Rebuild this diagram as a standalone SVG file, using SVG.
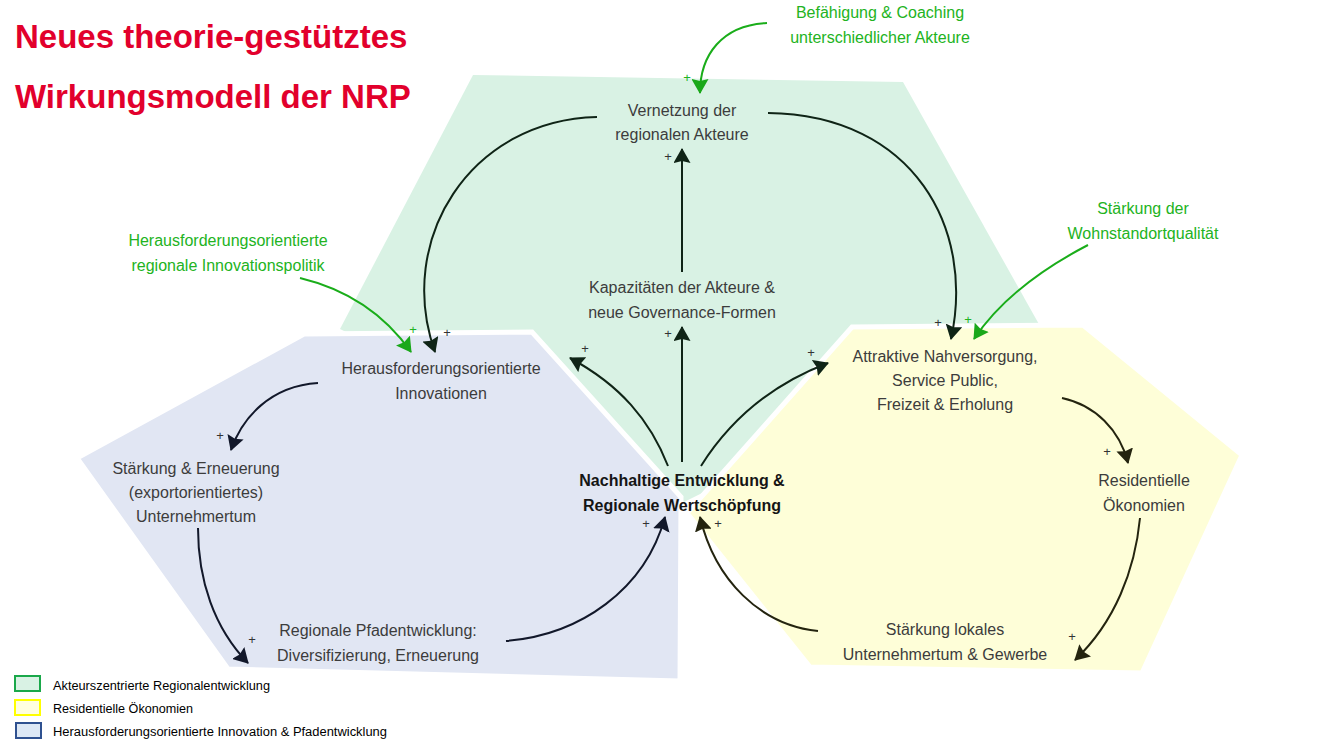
<svg xmlns="http://www.w3.org/2000/svg" width="1320" height="749" viewBox="0 0 1320 749">
<style>
.nt{font-family:"Liberation Sans",Arial,sans-serif;font-size:16px;fill:#3c3c3c;text-anchor:middle}
.ntb{font-family:"Liberation Sans",Arial,sans-serif;font-size:16px;font-weight:bold;fill:#151515;text-anchor:middle}
.gt{font-family:"Liberation Sans",Arial,sans-serif;font-size:16px;fill:#22b322;text-anchor:middle}
.ttl{font-family:"Liberation Sans",Arial,sans-serif;font-size:33px;font-weight:bold;fill:#e2002c}
.lg{font-family:"Liberation Sans",Arial,sans-serif;font-size:12px;fill:#000}
.pl{font-family:"Liberation Sans",Arial,sans-serif;font-size:13px;fill:#333;text-anchor:middle}
.pg{font-family:"Liberation Sans",Arial,sans-serif;font-size:13px;fill:#22b322;text-anchor:middle}
.c{fill:none;stroke-width:2}
.cg{stroke:#0f2416;marker-end:url(#ag)}
.cb{stroke:#12182a;marker-end:url(#ab)}
.cy{stroke:#24240f;marker-end:url(#ay)}
.cgr{stroke:#1aad1a;marker-end:url(#agr)}
</style>
<defs>
<marker id="ag" markerUnits="userSpaceOnUse" markerWidth="15" markerHeight="17" viewBox="0 0 15 17" refX="14" refY="8.5" orient="auto"><path d="M0,0 L15,8.5 L0,17 L2,8.5 z" fill="#0f2416"/></marker>
<marker id="ab" markerUnits="userSpaceOnUse" markerWidth="15" markerHeight="17" viewBox="0 0 15 17" refX="14" refY="8.5" orient="auto"><path d="M0,0 L15,8.5 L0,17 L2,8.5 z" fill="#12182a"/></marker>
<marker id="ay" markerUnits="userSpaceOnUse" markerWidth="15" markerHeight="17" viewBox="0 0 15 17" refX="14" refY="8.5" orient="auto"><path d="M0,0 L15,8.5 L0,17 L2,8.5 z" fill="#24240f"/></marker>
<marker id="agr" markerUnits="userSpaceOnUse" markerWidth="15" markerHeight="17" viewBox="0 0 15 17" refX="14" refY="8.5" orient="auto"><path d="M0,0 L15,8.5 L0,17 L2,8.5 z" fill="#1aa81a"/></marker>
</defs>
<rect width="1320" height="749" fill="#ffffff"/>

<g id="regions">
<polygon points="473,75 903,82 1040,326 684,502 340,329" fill="#d9f2e4"/>
<polygon points="304,334 532,332 681,497 680,681 228,669 77,458" fill="#e1e6f3" stroke="#ffffff" stroke-width="5" stroke-linejoin="miter"/>
<polygon points="852,327 1083,325 1242,455 1142,673 810,667 687,513" fill="#fefed8" stroke="#ffffff" stroke-width="5" stroke-linejoin="miter"/>
</g>

<g id="title">
<text class="ttl" x="15" y="48">Neues theorie-gestütztes</text>
<text class="ttl" x="15" y="108">Wirkungsmodell der NRP</text>
</g>

<g id="connectors">
<path class="c cg" d="M682,462 L682,327"/>
<path class="c cg" d="M682,272 L682,149"/>
<path class="c cg" d="M597,117 C470,120 395,240 435,352"/>
<path class="c cg" d="M768,113 C915,115 975,230 951,339"/>
<path class="c cg" d="M668,466 C650,420 620,385 570,358"/>
<path class="c cg" d="M701,466 C730,420 770,385 828,363"/>
<path class="c cb" d="M318,383 C270,386 242,418 231,450"/>
<path class="c cb" d="M198,528 C198,580 214,628 248,663"/>
<path class="c cb" d="M506,641 C580,635 645,590 665,517"/>
<path class="c cy" d="M818,631 C760,625 715,580 700,517"/>
<path class="c cy" d="M1062,398 C1095,405 1120,430 1128,463"/>
<path class="c cy" d="M1140,518 C1135,570 1115,622 1075,660"/>
<path class="c cgr" d="M767,23 C722,25 700,55 700,93"/>
<path class="c cgr" d="M300,278 C350,290 385,315 411,352"/>
<path class="c cgr" d="M1088,245 C1040,270 1000,300 974,339"/>
<text class="pl" x="668" y="161">+</text>
<text class="pl" x="668" y="338">+</text>
<text class="pl" x="447" y="337">+</text>
<text class="pl" x="938" y="327">+</text>
<text class="pl" x="585" y="353">+</text>
<text class="pl" x="811" y="357">+</text>
<text class="pl" x="220" y="440">+</text>
<text class="pl" x="252" y="644">+</text>
<text class="pl" x="646" y="528">+</text>
<text class="pl" x="718" y="528">+</text>
<text class="pl" x="1107" y="456">+</text>
<text class="pl" x="1072" y="641">+</text>
<text class="pg" x="687" y="82">+</text>
<text class="pg" x="413" y="334">+</text>
<text class="pg" x="968" y="324">+</text>
</g>

<g id="node-vernetzung"><text class="nt" x="682" y="116">Vernetzung der</text><text class="nt" x="682" y="140">regionalen Akteure</text></g>
<g id="node-kapazitaeten"><text class="nt" x="682" y="293">Kapazitäten der Akteure &amp;</text><text class="nt" x="682" y="318">neue Governance-Formen</text></g>
<g id="node-herausforderung"><text class="nt" x="441" y="374">Herausforderungsorientierte</text><text class="nt" x="441" y="399">Innovationen</text></g>
<g id="node-staerkung-erneuerung"><text class="nt" x="196" y="474">Stärkung &amp; Erneuerung</text><text class="nt" x="196" y="498">(exportorientiertes)</text><text class="nt" x="196" y="522">Unternehmertum</text></g>
<g id="node-pfadentwicklung"><text class="nt" x="378" y="636">Regionale Pfadentwicklung:</text><text class="nt" x="378" y="661">Diversifizierung, Erneuerung</text></g>
<g id="node-nachhaltig"><text class="ntb" x="682" y="486">Nachhaltige Entwicklung &amp;</text><text class="ntb" x="682" y="511">Regionale Wertschöpfung</text></g>
<g id="node-attraktive"><text class="nt" x="945" y="362">Attraktive Nahversorgung,</text><text class="nt" x="945" y="386">Service Public,</text><text class="nt" x="945" y="410">Freizeit &amp; Erholung</text></g>
<g id="node-residentielle"><text class="nt" x="1144" y="486">Residentielle</text><text class="nt" x="1144" y="511">Ökonomien</text></g>
<g id="node-lokales"><text class="nt" x="945" y="635">Stärkung lokales</text><text class="nt" x="945" y="660">Unternehmertum &amp; Gewerbe</text></g>
<g id="node-befaehigung"><text class="gt" x="880" y="18">Befähigung &amp; Coaching</text><text class="gt" x="880" y="43">unterschiedlicher Akteure</text></g>
<g id="node-innovationspolitik"><text class="gt" x="228" y="246">Herausforderungsorientierte</text><text class="gt" x="228" y="271">regionale Innovationspolitik</text></g>
<g id="node-wohnstandort"><text class="gt" x="1143" y="214">Stärkung der</text><text class="gt" x="1143" y="239">Wohnstandortqualität</text></g>

<g id="legend">
<rect x="15" y="676" width="25" height="15" fill="#d9f2e4" stroke="#1aa84a" stroke-width="2"/>
<rect x="15" y="700" width="25" height="15" fill="#ffffe0" stroke="#ffff00" stroke-width="2"/>
<rect x="16" y="723" width="25" height="15" fill="#dde8f5" stroke="#2f5190" stroke-width="2"/>
<text class="lg" x="53" y="690" textLength="217" lengthAdjust="spacingAndGlyphs">Akteurszentrierte Regionalentwicklung</text>
<text class="lg" x="53" y="713" textLength="140" lengthAdjust="spacingAndGlyphs">Residentielle Ökonomien</text>
<text class="lg" x="53" y="736" textLength="334" lengthAdjust="spacingAndGlyphs">Herausforderungsorientierte Innovation &amp; Pfadentwicklung</text>
</g>
</svg>
